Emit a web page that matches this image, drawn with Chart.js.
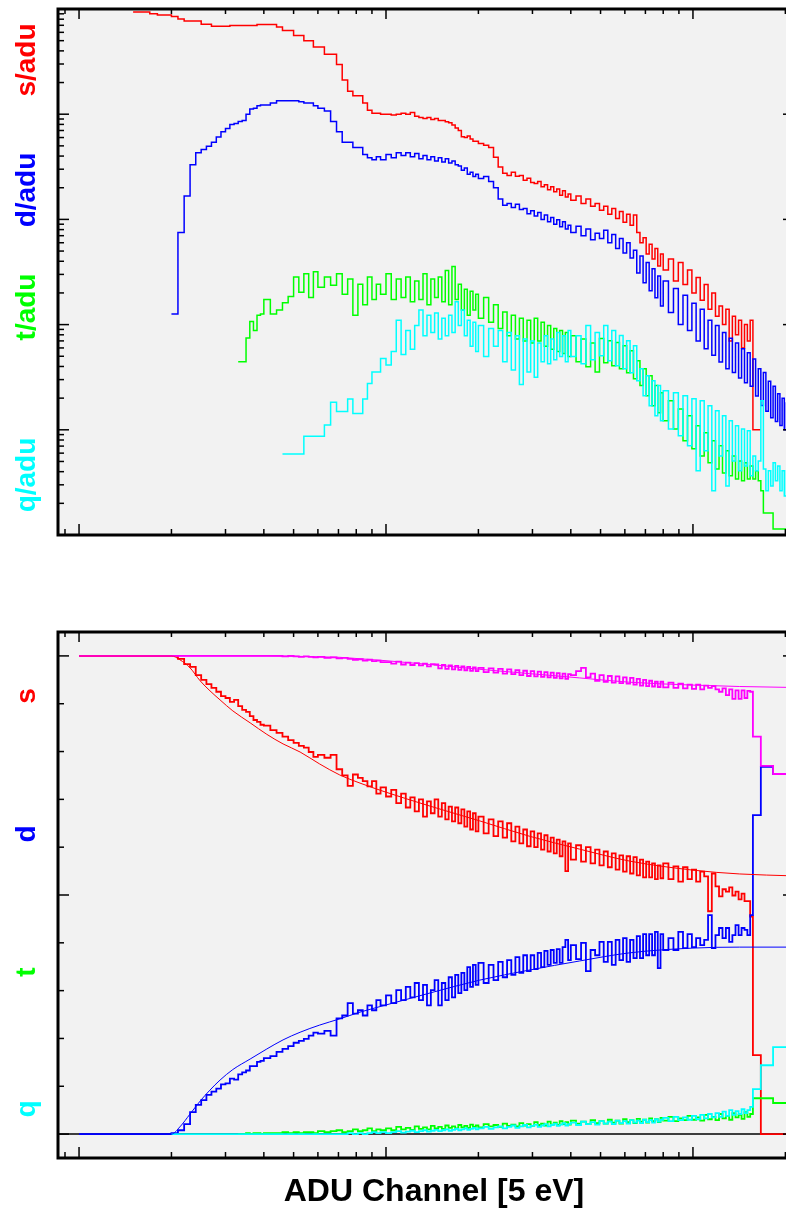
<!DOCTYPE html>
<html><head><meta charset="utf-8">
<script src="https://cdn.jsdelivr.net/npm/chart.js@4/dist/chart.umd.min.js"></script>
<style>
html,body{margin:0;padding:0;width:786px;height:1209px;overflow:hidden;background:#fff;}
canvas{position:absolute;left:0;}
#c1{top:0;}
#c2{top:600px;}
.yl{position:absolute;font-family:"Liberation Sans",Arial,sans-serif;font-weight:bold;font-size:28px;line-height:1;white-space:nowrap;transform:translate(-50%,-50%) rotate(-90deg);}
#xt{position:absolute;left:434px;top:1190px;transform:translate(-50%,-50%);font-family:"Liberation Sans",Arial,sans-serif;font-weight:bold;font-size:32px;line-height:1;white-space:nowrap;color:#000;}
</style></head>
<body>
<canvas id="c1" width="900" height="560"></canvas>
<canvas id="c2" width="900" height="600"></canvas>
<div class="yl" style="left:26px;top:60px;color:#ff0000">s/adu</div>
<div class="yl" style="left:26px;top:190px;color:#0000ff">d/adu</div>
<div class="yl" style="left:26px;top:307px;color:#00ff00">t/adu</div>
<div class="yl" style="left:26px;top:475px;color:#00ffff">q/adu</div>
<div class="yl" style="left:26px;top:696px;color:#ff0000">s</div>
<div class="yl" style="left:26px;top:834px;color:#0000ff">d</div>
<div class="yl" style="left:26px;top:972px;color:#00ff00">t</div>
<div class="yl" style="left:26px;top:1109px;color:#00ffff">q</div>
<div id="xt">ADU Channel [5 eV]</div>
<script>
// ---- bin positions (ADU channel, left edge of each bin) ----
const channels = [
 10,11,12,13,14,
 15,16,17,18,19,20,21,22,23,24,25,26,27,28,29,30,31,32,33,34,35,36,37,38,39,40,
 42,44,46,48,50,52,54,56,58,60,
 63,66,69,72,75,78,81,84,87,90,93,96,
 100,104,108,112,116,120,124,128,132,136,140,144,148,152,156,160,164,168,172,176,180,184,188,192,196,
 200,208,216,224,232,240,248,256,264,272,280,288,296,304,312,320,328,336,344,352,360,368,376,384,392,
 400,416,432,448,464,480,496,512,528,544,560,576,592,608,624,640,656,672,688,704,720,736,752,768,784,
 800,832,864,896,928,960,992,1024,1056,1088,1120,1152,1184,1216,1248,1280,1312,1344,1376,1408,1440,1472,1504,1536,1568,
 1600,1632,1664,1696,1728,1760,1792,1824,1856,1888,1920,1952,1984,2016,2048,2080,2112
];
const N = null;
// ---- upper panel: per-ADU spectra ----
const sPerAdu = [
 N,N,N,N,N,
 0.934,0.934,0.9,0.879,0.879,0.847,0.803,0.767,0.767,0.767,0.717,0.717,0.686,0.686,0.686,0.686,0.696,0.696,0.696,0.696,0.696,0.696,0.696,0.712,0.712,0.712,
 0.712,0.675,0.626,0.626,0.559,0.559,0.499,0.499,0.436,0.436,
 0.372,0.372,0.296,0.211,0.165,0.15,0.15,0.128,0.109,0.102,0.102,0.1,
 0.0998,0.098,0.1,0.102,0.1,0.104,0.0955,0.093,0.091,0.093,0.089,0.091,0.087,0.087,0.085,0.083,0.079,0.074,0.07,0.061,0.06,0.062,0.058,0.0553,0.0553,
 0.0527,0.0506,0.0483,0.039,0.0314,0.0274,0.0262,0.028,0.0257,0.0262,0.0235,0.0246,0.0224,0.0219,0.0229,0.0204,0.0214,0.0191,0.0204,0.0183,0.0195,0.017,0.0187,0.0163,0.0174,
 0.0152,0.0167,0.0142,0.0156,0.0133,0.0142,0.0122,0.0133,0.0112,0.0127,0.0102,0.0119,0.0094,0.0112,0.0088,0.011,0.0075,0.006,0.0067,0.0047,0.0058,0.0042,0.0053,0.0036,0.0047,
 0.0033,0.0042,0.0026,0.0039,0.0024,0.0033,0.002,0.0028,0.0017,0.0024,0.0014,0.002,0.0012,0.0015,0.001,0.0014,0.0007,0.0012,0.0008,0.0011,0.0006,0.001,0.0007,0.0011,0.0001,
 0.0001,0.0001,0.0001,N,N,N,N,N,N,N,N,N,N,N,N,N,N
];
const dPerAdu = [
 N,N,N,N,N,
 N,N,N,N,N,0.00126,0.0075,0.0167,0.033,0.0431,0.0462,0.0495,0.0541,0.0607,0.0681,0.073,0.0796,0.0815,0.0853,0.0872,0.0998,0.112,0.114,0.12,0.122,0.122,
 0.128,0.134,0.134,0.134,0.134,0.131,0.128,0.128,0.12,0.114,
 0.107,0.0853,0.068,0.0541,0.0541,0.0483,0.0483,0.0414,0.0386,0.0368,0.0395,0.0368,
 0.0414,0.0386,0.0431,0.0404,0.0431,0.0395,0.0422,0.0377,0.0404,0.0368,0.0395,0.036,0.0386,0.0352,0.0377,0.0344,0.036,0.033,0.0322,0.0294,0.0308,0.0268,0.028,0.0256,0.0268,
 0.0245,0.0256,0.0229,0.02,0.0156,0.0136,0.0142,0.013,0.0139,0.0124,0.0127,0.0113,0.0121,0.0108,0.0116,0.01,0.011,0.0095,0.0104,0.009,0.0099,0.0085,0.0095,0.0081,0.0088,
 0.0075,0.0086,0.007,0.0081,0.0064,0.0074,0.0066,0.0079,0.006,0.0072,0.0053,0.0066,0.0048,0.006,0.0043,0.0051,0.0031,0.0045,0.0025,0.0039,0.0021,0.0034,0.0018,0.0029,0.0015,
 0.0026,0.0013,0.0022,0.001,0.0019,0.00088,0.0016,0.0007,0.0014,0.00059,0.0011,0.00051,0.00098,0.00044,0.00084,0.00038,0.00074,0.00035,0.00067,0.00031,0.00059,0.00028,0.00054,0.00026,0.00047,
 0.00021,0.00038,0.00017,0.00035,0.00015,0.00029,0.00013,0.00026,0.00012,0.00022,0.00011,0.0002,0.0001,0.00018,0.000098,0.00017,0.000094
];
const tPerAdu = [
 N,N,N,N,N,
 N,N,N,N,N,N,N,N,N,N,N,N,N,N,N,N,N,N,0.000444,0.000444,0.000747,0.00107,0.000877,0.00123,0.00126,0.00173,
 0.00126,0.00138,0.00161,0.00185,0.00284,0.00203,0.00305,0.00181,0.00318,0.00227,
 0.00284,0.00237,0.00305,0.00194,0.00272,0.00123,0.00242,0.00154,0.00284,0.00173,0.00242,0.00194,
 0.00305,0.00173,0.00272,0.00181,0.00284,0.00165,0.0026,0.00173,0.00305,0.00154,0.00272,0.00181,0.00284,0.00165,0.00326,0.00154,0.00357,0.00173,0.00242,0.00138,0.00217,0.00123,0.00207,0.00138,0.00194,
 0.00115,0.00181,0.00105,0.00154,0.000916,0.00132,0.000782,0.00123,0.000731,0.00115,0.000698,0.0011,0.000667,0.00115,0.000698,0.00105,0.000623,0.00098,0.000582,0.000916,0.000556,0.000877,0.000531,0.00084,0.000497,
 0.000782,0.000444,0.000731,0.000397,0.000667,0.000354,0.000736,0.000435,0.000704,0.000407,0.000674,0.000381,0.000631,0.000349,0.000565,0.000306,0.000454,0.000263,0.000381,0.000211,0.000327,0.000169,0.000263,0.000145,0.000225,
 0.000122,0.000189,0.000102,0.000158,0.0000786,0.000136,0.000066,0.000109,0.0000565,0.0000936,0.0000485,0.0000786,0.0000425,0.0000704,0.0000389,0.0000631,0.0000365,0.0000565,0.0000341,0.0000506,0.0000327,0.0000485,0.0000341,0.0000454,0.0000341,
 0.0000407,0.0000327,0.0000263,0.0000162,0.0000162,0.0000162,0.0000162,0.0000114,0.0000114,0.0000114,0.0000114,0.0000114,0.0000114,0.0000114,0.0000114,0.0000114,0.0000114
];
const qPerAdu = [
 N,N,N,N,N,
 N,N,N,N,N,N,N,N,N,N,N,N,N,N,N,N,N,N,N,N,N,N,N,N,N,N,
 N,N,5.9e-5,5.9e-5,5.9e-5,5.9e-5,8.67e-5,8.67e-5,8.67e-5,8.67e-5,
 1.11e-4,1.83e-4,1.49e-4,1.49e-4,1.96e-4,1.43e-4,1.43e-4,1.96e-4,2.76e-4,3.54e-4,3.54e-4,4.75e-4,
 4.14e-4,5.56e-4,1.1e-3,5.2e-4,8.77e-4,5.82e-4,9.8e-4,1.38e-3,7.82e-4,1.23e-3,8.4e-4,1.29e-3,7.31e-4,1.15e-3,7.82e-4,1.23e-3,8.4e-4,1.65e-3,9.8e-4,1.38e-3,7.82e-4,1.1e-3,6.23e-4,1.05e-3,5.56e-4,
 9.8e-4,4.97e-4,9.16e-4,6.23e-4,8.77e-4,4.44e-4,8.4e-4,3.7e-4,7.82e-4,2.7e-4,7.31e-4,3.54e-4,6.98e-4,3.16e-4,6.67e-4,4.44e-4,7.82e-4,4.24e-4,7.31e-4,4.64e-4,8.4e-4,4.97e-4,7.82e-4,4.44e-4,8.77e-4,
 4.97e-4,7.82e-4,4.24e-4,9.8e-4,4.64e-4,8.4e-4,5.07e-4,9.78e-4,4.54e-4,8.77e-4,4.07e-4,7.86e-4,3.81e-4,7.04e-4,3.49e-4,6.31e-4,2.93e-4,3.81e-4,2.11e-4,3.27e-4,1.69e-4,2.93e-4,1.36e-4,2.63e-4,1.22e-4,
 2.35e-4,1.02e-4,2.25e-4,8.77e-5,2.11e-4,7.04e-5,1.97e-4,4.07e-5,1.89e-4,6.31e-5,1.69e-4,2.63e-5,1.52e-4,5.65e-5,1.36e-4,2.93e-5,1.22e-4,5.06e-5,1.09e-4,4.07e-5,1.02e-4,4.54e-5,9.78e-5,3.65e-5,5.65e-5,
 4.07e-5,5.06e-5,1.89e-4,4.25e-5,2.63e-5,4.07e-5,2.93e-5,4.85e-5,3.27e-5,4.54e-5,2.63e-5,4.07e-5,2.35e-5,4.07e-5,2.35e-5,3.65e-5,2.35e-5
];
// ---- lower panel: fractions ----
const sFrac = [
 1,1,1,1,1,
 1,1,1,1,1,1,0.994,0.983,0.977,0.96,0.95,0.941,0.933,0.925,0.916,0.912,0.904,0.908,0.895,0.887,0.883,0.874,0.866,0.862,0.856,0.854,
 0.845,0.839,0.831,0.824,0.818,0.812,0.808,0.799,0.789,0.793,
 0.787,0.793,0.763,0.75,0.728,0.752,0.745,0.738,0.727,0.738,0.712,0.725,
 0.706,0.72,0.692,0.712,0.683,0.704,0.675,0.7,0.664,0.696,0.671,0.7,0.664,0.692,0.658,0.685,0.654,0.683,0.65,0.679,0.643,0.675,0.637,0.671,0.633,
 0.664,0.629,0.658,0.623,0.654,0.62,0.65,0.612,0.643,0.608,0.637,0.602,0.633,0.6,0.629,0.595,0.625,0.591,0.62,0.587,0.616,0.581,0.612,0.55,0.608,
 0.574,0.604,0.57,0.6,0.566,0.595,0.562,0.591,0.558,0.587,0.553,0.583,0.549,0.581,0.545,0.579,0.541,0.574,0.537,0.57,0.537,0.566,0.533,0.562,0.535,
 0.566,0.533,0.56,0.528,0.558,0.533,0.553,0.528,0.549,0.539,0.466,0.545,0.518,0.497,0.512,0.507,0.516,0.499,0.507,0.491,0.503,0.487,0.487,0.455,0.165,
 0.165,0.165,0,0,0,0,0,0,0,0,0,0,0,0,0,0,0
];
const dFrac = [
 0,0,0,0,0,
 0,0,0,0,0,0.002,0.008,0.021,0.046,0.061,0.071,0.082,0.089,0.095,0.104,0.106,0.116,0.114,0.125,0.129,0.133,0.142,0.142,0.151,0.153,0.159,
 0.163,0.172,0.178,0.184,0.191,0.195,0.199,0.206,0.212,0.21,
 0.216,0.206,0.242,0.248,0.274,0.252,0.259,0.248,0.269,0.259,0.28,0.269,
 0.29,0.274,0.301,0.28,0.308,0.286,0.316,0.28,0.312,0.269,0.301,0.322,0.269,0.316,0.28,0.328,0.286,0.333,0.295,0.337,0.301,0.349,0.308,0.354,0.312,
 0.358,0.316,0.354,0.322,0.36,0.328,0.364,0.333,0.37,0.337,0.374,0.341,0.374,0.345,0.379,0.349,0.383,0.354,0.385,0.358,0.387,0.358,0.391,0.406,0.364,
 0.395,0.366,0.4,0.341,0.385,0.374,0.402,0.36,0.402,0.354,0.406,0.364,0.41,0.36,0.406,0.368,0.414,0.368,0.418,0.374,0.418,0.374,0.423,0.347,0.418,
 0.385,0.41,0.385,0.423,0.389,0.418,0.391,0.41,0.395,0.406,0.458,0.389,0.416,0.431,0.41,0.431,0.402,0.416,0.437,0.416,0.431,0.427,0.416,0.458,0.667,
 0.667,0.667,0.768,0.768,0.768,0.768,0.768,0.753,0.753,0.753,0.753,0.753,0.753,0.753,0.753,0.753,0.753
];
const tFrac = [
 N,N,N,N,N,
 N,N,N,N,N,N,N,N,N,N,N,N,N,N,N,N,N,N,0,0,0.002,0,0.002,0.002,0,0.002,
 0.002,0.002,0.004,0.002,0.004,0.002,0.004,0.004,0.002,0.006,
 0.004,0.006,0.008,0.004,0.006,0.01,0.006,0.008,0.012,0.006,0.01,0.008,
 0.012,0.008,0.015,0.01,0.013,0.009,0.016,0.011,0.014,0.01,0.017,0.012,0.015,0.011,0.018,0.013,0.016,0.012,0.019,0.014,0.017,0.013,0.02,0.015,0.018,
 0.014,0.021,0.016,0.019,0.015,0.022,0.017,0.02,0.016,0.023,0.018,0.021,0.017,0.025,0.019,0.022,0.018,0.026,0.02,0.024,0.019,0.027,0.021,0.025,0.02,
 0.028,0.022,0.026,0.021,0.029,0.023,0.027,0.022,0.03,0.024,0.028,0.022,0.031,0.025,0.029,0.023,0.032,0.026,0.03,0.024,0.033,0.027,0.031,0.025,0.034,
 0.028,0.036,0.027,0.033,0.029,0.038,0.03,0.035,0.028,0.04,0.031,0.036,0.029,0.042,0.033,0.038,0.03,0.044,0.035,0.04,0.032,0.046,0.036,0.042,0.075,
 0.075,0.075,0.075,0.075,0.075,0.075,0.075,0.065,0.065,0.065,0.065,0.065,0.065,0.065,0.065,0.065,0.065
];
const qFrac = [
 N,N,N,N,N,
 N,N,N,N,N,0,0,0,0,0,0,0,0,0,0,0,0,0,0,0,0,0,0,0,0,0,
 0,0,0,0,0,0,0,0,0,0,
 0,0,0,0,0.002,0,0.002,0,0.002,0.004,0.002,0.004,
 0.002,0.004,0.006,0.003,0.005,0.007,0.004,0.006,0.008,0.005,0.007,0.009,0.006,0.008,0.01,0.007,0.009,0.011,0.008,0.01,0.012,0.009,0.011,0.013,0.01,
 0.012,0.015,0.011,0.014,0.016,0.012,0.015,0.018,0.013,0.016,0.019,0.014,0.017,0.02,0.015,0.018,0.021,0.016,0.019,0.022,0.017,0.02,0.023,0.018,0.021,
 0.024,0.019,0.026,0.021,0.025,0.02,0.027,0.022,0.026,0.021,0.028,0.023,0.027,0.022,0.029,0.024,0.028,0.023,0.03,0.025,0.029,0.024,0.031,0.026,0.03,
 0.034,0.027,0.036,0.029,0.035,0.03,0.038,0.031,0.04,0.033,0.042,0.035,0.044,0.036,0.047,0.038,0.05,0.04,0.048,0.042,0.052,0.044,0.05,0.057,0.094,
 0.094,0.094,0.144,0.144,0.144,0.144,0.144,0.182,0.182,0.182,0.182,0.182,0.182,0.182,0.182,0.182,0.182
];
const sdFrac = [
 1,1,1,1,1,
 1,1,1,1,1,1,1,1,1,1,1,1,1,1,1,1,1,1,1,1,1,1,1,1,1,1,
 1,1,0.999,1,0.999,0.998,0.999,0.998,0.997,0.998,
 0.996,0.997,0.995,0.996,0.994,0.992,0.993,0.99,0.992,0.989,0.99,0.987,
 0.987,0.984,0.988,0.982,0.986,0.981,0.985,0.98,0.984,0.978,0.983,0.982,0.974,0.981,0.973,0.98,0.972,0.979,0.971,0.978,0.97,0.977,0.969,0.976,0.968,
 0.975,0.966,0.974,0.965,0.973,0.963,0.972,0.962,0.97,0.96,0.969,0.958,0.968,0.957,0.967,0.956,0.966,0.955,0.965,0.954,0.964,0.953,0.963,0.952,0.962,
 0.96,0.968,0.975,0.955,0.963,0.948,0.96,0.946,0.958,0.944,0.957,0.943,0.955,0.942,0.954,0.94,0.952,0.938,0.95,0.937,0.948,0.936,0.946,0.935,0.946,
 0.934,0.944,0.933,0.942,0.932,0.94,0.931,0.94,0.93,0.938,0.933,0.937,0.93,0.925,0.932,0.918,0.93,0.91,0.928,0.91,0.928,0.912,0.927,0.925,0.831,
 0.831,0.831,0.77,0.77,0.77,0.77,0.77,0.753,0.753,0.753,0.753,0.753,0.753,0.753,0.753,0.753,0.753
];
// ---- smooth model curves (lower panel) ----
const modelCh = [10,20,21.3,23,24.8,26.7,28.8,31.7,36.1,40.9,46.2,52.5,60.8,70.7,82.3,100,139,202,293,427,621,1000,1420,2118];
const modelS  = [1,1,0.992,0.975,0.948,0.927,0.908,0.885,0.86,0.836,0.816,0.799,0.774,0.751,0.734,0.715,0.686,0.655,0.623,0.596,0.571,0.552,0.544,0.54];
const modelD  = [0,0,0.015,0.042,0.069,0.092,0.113,0.135,0.157,0.178,0.197,0.213,0.228,0.241,0.255,0.27,0.295,0.322,0.343,0.362,0.379,0.389,0.391,0.391];
const modelSD = [1,1,1,1,1,1,1,1,1,1,0.9995,0.999,0.998,0.997,0.994,0.99,0.982,0.972,0.963,0.954,0.945,0.939,0.936,0.934];
const zeroCh = [8.54, 2118];
const zeroVal = [0, 0];
// ---- axes ----
const xRange = [8.54, 2118];
const xMajorTicks = [10, 100, 1000];
const xMinorTicks = [9, 20, 30, 40, 50, 60, 70, 80, 90, 200, 300, 400, 500, 600, 700, 800, 900, 2000];
const topYRange = [1e-5, 1];
const topYMajor = [1e-5, 1e-4, 1e-3, 1e-2, 1e-1, 1];
const topYMinor = [];
[1e-5, 1e-4, 1e-3, 1e-2, 1e-1].forEach(d => { for (let k = 2; k <= 9; k++) topYMinor.push(k * d); });
const botYRange = [-0.05, 1.05];
const botYMajor = [0, 0.5, 1];
const botYMinor = [0.1, 0.2, 0.3, 0.4, 0.6, 0.7, 0.8, 0.9];

const RED = '#ff0000', BLUE = '#0000ff', GREEN = '#00ff00', CYAN = '#00ffff', MAG = '#ff00ff';

function pts(xs, ys) { return xs.map((x, i) => ({x: x, y: ys[i]})); }
function stepDs(ys, color, w) {
  return {data: pts(channels, ys), borderColor: color, borderWidth: w || 1.5, stepped: 'before', pointRadius: 0, fill: false, spanGaps: false};
}
function smoothDs(xs, ys, color, w) {
  return {data: pts(xs, ys), borderColor: color, borderWidth: w || 1, pointRadius: 0, fill: false, cubicInterpolationMode: 'monotone'};
}

const framePlugin = {
  id: 'frame',
  beforeDraw(chart) {
    const {ctx, chartArea: a} = chart;
    ctx.save();
    ctx.fillStyle = '#f2f2f2';
    ctx.fillRect(a.left, a.top, a.right - a.left, a.bottom - a.top);
    ctx.restore();
  },
  afterDraw(chart, args, opts) {
    const {ctx, chartArea: a} = chart;
    const xs = chart.scales.x, ys = chart.scales.y;
    ctx.save();
    ctx.strokeStyle = '#000';
    ctx.lineWidth = 1.5;
    const seg = (x1, y1, x2, y2) => { ctx.beginPath(); ctx.moveTo(x1, y1); ctx.lineTo(x2, y2); ctx.stroke(); };
    const xt = (vals, lb, lt) => vals.forEach(v => {
      const p = xs.getPixelForValue(v);
      if (p < a.left || p > a.right) return;
      seg(p, a.bottom, p, a.bottom - lb);
      seg(p, a.top, p, a.top + lt);
    });
    const yt = (vals, ll, lr) => vals.forEach(v => {
      const p = ys.getPixelForValue(v);
      if (p < a.top - 0.5 || p > a.bottom + 0.5) return;
      seg(a.left, p, a.left + ll, p);
      seg(a.right, p, a.right - lr, p);
    });
    xt(xMajorTicks, 11, 10);
    xt(xMinorTicks, 6, 5);
    yt(opts.yMajor, 11, 10);
    yt(opts.yMinor, 6, 5);
    ctx.lineWidth = 3;
    ctx.strokeRect(a.left, a.top, a.right - a.left, a.bottom - a.top);
    ctx.restore();
  }
};

function makeOpts(yType, yRange, pad, yMajor, yMinor) {
  return {
    responsive: false, animation: false, devicePixelRatio: 1, events: [],
    layout: {padding: pad},
    plugins: {legend: {display: false}, tooltip: {enabled: false}, title: {display: false},
              frame: {yMajor: yMajor, yMinor: yMinor}},
    scales: {
      x: {type: 'logarithmic', min: xRange[0], max: xRange[1], display: false, bounds: 'data'},
      y: {type: yType, min: yRange[0], max: yRange[1], display: false, bounds: 'data'}
    }
  };
}

new Chart(document.getElementById('c1'), {
  type: 'line',
  data: {datasets: [
    stepDs(qPerAdu, CYAN),
    stepDs(tPerAdu, GREEN),
    stepDs(dPerAdu, BLUE),
    stepDs(sPerAdu, RED)
  ]},
  options: makeOpts('logarithmic', topYRange, {left: 58, top: 9, right: 107, bottom: 25}, topYMajor, topYMinor),
  plugins: [framePlugin]
});

new Chart(document.getElementById('c2'), {
  type: 'line',
  data: {datasets: [
    smoothDs(modelCh, modelSD, MAG),
    smoothDs(modelCh, modelD, BLUE),
    smoothDs(modelCh, modelS, RED),
    stepDs(sdFrac, MAG, 1.8),
    stepDs(qFrac, CYAN, 1.8),
    stepDs(tFrac, GREEN, 1.8),
    stepDs(dFrac, BLUE, 1.8),
    stepDs(sFrac, RED, 1.8),
    {data: pts(zeroCh, zeroVal), borderColor: '#000', borderWidth: 1.5, pointRadius: 0, fill: false}
  ]},
  options: makeOpts('linear', botYRange, {left: 58, top: 32, right: 107, bottom: 42}, botYMajor, botYMinor),
  plugins: [framePlugin]
});
</script>
</body></html>
